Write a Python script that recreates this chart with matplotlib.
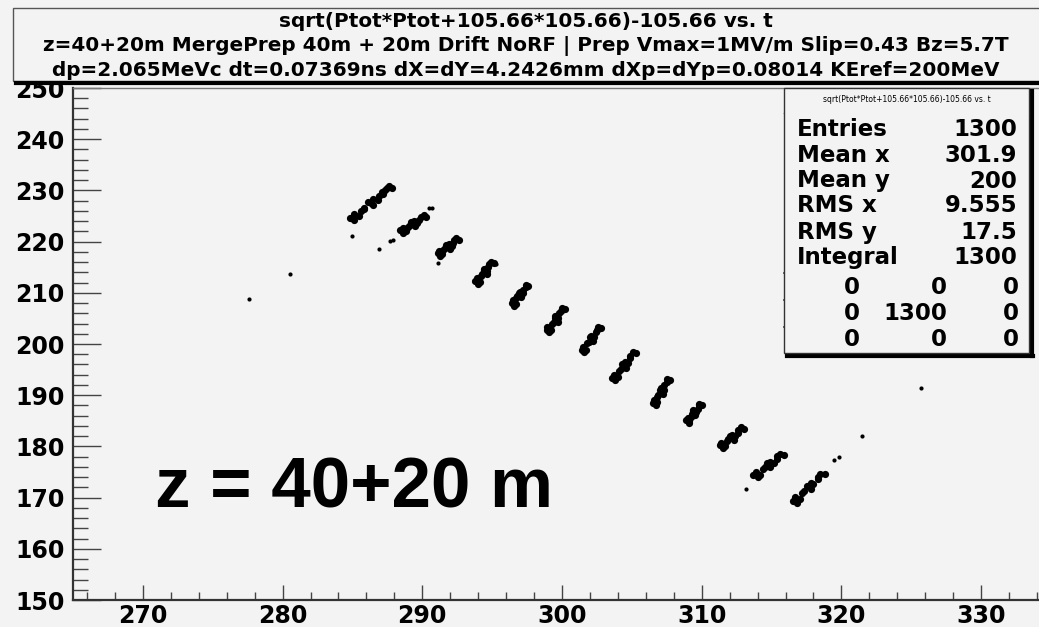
import matplotlib
matplotlib.use('Agg')
import matplotlib.pyplot as plt
from matplotlib.patches import Rectangle
from matplotlib.lines import Line2D
from matplotlib.ticker import MultipleLocator

plt.rcParams['font.family'] = 'DejaVu Sans'
plt.rcParams['font.weight'] = 'bold'

# ---- data: t (ns) and kinetic energy (MeV) of each bunch
t_b01 = [284.8, 285.1, 285.1, 285.5, 285.8, 285.8, 286.1, 286.5, 286.5, 286.8, 287.1, 287.2, 287.5, 287.8,
         286.9, 287.3, 287.6, 286.3, 285.6]
E_b01 = [224.6, 224.2, 225.4, 225.0, 226.6, 226.4, 227.7, 227.1, 228.3, 228.2, 229.7, 229.3, 230.5, 230.4,
         229.0, 230.0, 230.9, 227.6, 225.9]
t_b02 = [288.4, 288.6, 288.6, 288.8, 289.1, 289.0, 289.2, 289.5, 289.4, 289.6, 289.9, 289.8, 290.1, 290.3]
E_b02 = [222.3, 221.7, 222.6, 222.0, 223.3, 222.9, 223.9, 223.1, 224.1, 223.7, 224.9, 224.3, 225.2, 224.9]
t_b03 = [291.1, 291.3, 291.2, 291.4, 291.6, 291.5, 291.7, 292.0, 291.9, 292.1, 292.3, 292.2, 292.4, 292.6]
E_b03 = [217.8, 217.2, 218.1, 217.5, 218.8, 218.4, 219.4, 218.6, 219.6, 219.2, 220.4, 219.8, 220.7, 220.4]
t_b04 = [293.8, 294.0, 293.9, 294.1, 294.3, 294.2, 294.4, 294.6, 294.4, 294.6, 294.8, 294.7, 294.9, 295.1]
E_b04 = [212.4, 211.8, 212.8, 212.2, 213.7, 213.3, 214.4, 213.6, 214.6, 214.3, 215.7, 215.1, 216.1, 215.8]
t_b05 = [296.4, 296.6, 296.5, 296.7, 296.8, 296.7, 296.9, 297.1, 297.0, 297.2, 297.4, 297.2, 297.4, 297.6]
E_b05 = [208.1, 207.5, 208.5, 207.9, 209.3, 208.9, 210.0, 209.2, 210.2, 209.9, 211.2, 210.6, 211.6, 211.3]
t_b06 = [298.9, 299.1, 298.9, 299.2, 299.4, 299.3, 299.5, 299.7, 299.5, 299.7, 299.9, 299.8, 300.0, 300.2]
E_b06 = [202.8, 202.3, 203.3, 202.8, 204.3, 203.9, 205.1, 204.3, 205.4, 205.1, 206.5, 206.0, 207.0, 206.8]
t_b07 = [301.4, 301.6, 301.5, 301.7, 301.9, 301.8, 302.0, 302.2, 302.1, 302.3, 302.5, 302.4, 302.6, 302.8]
E_b07 = [198.9, 198.4, 199.4, 198.9, 200.4, 200.1, 201.3, 200.6, 201.6, 201.4, 202.8, 202.3, 203.3, 203.1]
t_b08 = [303.6, 303.8, 303.7, 304.0, 304.2, 304.1, 304.3, 304.6, 304.5, 304.7, 304.9, 304.9, 305.1, 305.3]
E_b08 = [193.4, 192.9, 194.0, 193.6, 195.1, 194.8, 196.0, 195.4, 196.5, 196.3, 197.7, 197.3, 198.4, 198.2]
t_b09 = [306.5, 306.7, 306.6, 306.8, 306.9, 306.8, 307.0, 307.2, 307.1, 307.3, 307.5, 307.3, 307.5, 307.7]
E_b09 = [188.5, 188.0, 189.1, 188.6, 190.1, 189.7, 191.0, 190.3, 191.4, 191.1, 192.5, 192.0, 193.1, 192.9]
t_b10 = [308.9, 309.1, 309.0, 309.1, 309.3, 309.2, 309.4, 309.5, 309.4, 309.6, 309.8, 309.7, 309.8, 310.0]
E_b10 = [185.2, 184.6, 185.5, 184.9, 186.3, 185.8, 186.9, 186.1, 187.1, 186.7, 188.0, 187.4, 188.3, 188.0]
t_b11 = [311.3, 311.5, 311.4, 311.7, 311.9, 311.8, 312.0, 312.3, 312.2, 312.4, 312.6, 312.6, 312.8, 313.0]
E_b11 = [180.2, 179.6, 180.6, 180.0, 181.4, 181.0, 182.1, 181.3, 182.3, 182.0, 183.3, 182.7, 183.7, 183.4]
t_b12 = [313.7, 314.0, 313.9, 314.2, 314.5, 314.4, 314.7, 314.9, 314.9, 315.2, 315.4, 315.4, 315.6, 315.9]
E_b12 = [174.5, 174.0, 175.0, 174.4, 175.9, 175.5, 176.7, 175.9, 177.0, 176.7, 178.1, 177.5, 178.5, 178.3]
t_b13 = [316.5, 316.8, 316.7, 317.0, 317.3, 317.2, 317.5, 317.8, 317.8, 318.0, 318.3, 318.3, 318.5, 318.8]
E_b13 = [169.4, 169.0, 170.1, 169.7, 171.2, 170.9, 172.2, 171.6, 172.8, 172.6, 174.0, 173.6, 174.7, 174.6]
# stray particles between the bunches
t_halo = [277.6, 280.5, 285.0, 286.9, 287.7, 287.9, 290.5, 290.7, 291.1, 295.3, 313.2, 319.5, 319.8, 321.5, 325.7]
E_halo = [208.8, 213.7, 221.0, 218.5, 220.2, 220.3, 226.5, 226.6, 215.8, 215.7, 171.7, 177.3, 177.9, 182.0, 191.4]

t_all = [t_b01, t_b02, t_b03, t_b04, t_b05, t_b06, t_b07, t_b08, t_b09, t_b10, t_b11, t_b12, t_b13]
E_all = [E_b01, E_b02, E_b03, E_b04, E_b05, E_b06, E_b07, E_b08, E_b09, E_b10, E_b11, E_b12, E_b13]

title_lines = ['sqrt(Ptot*Ptot+105.66*105.66)-105.66 vs. t',
               'z=40+20m MergePrep 40m + 20m Drift NoRF | Prep Vmax=1MV/m Slip=0.43 Bz=5.7T',
               'dp=2.065MeVc dt=0.07369ns dX=dY=4.2426mm dXp=dYp=0.08014 KEref=200MeV']
stat_names = ['Entries', 'Mean x', 'Mean y', 'RMS x', 'RMS y', 'Integral']
stat_values = ['1300', '301.9', '200', '9.555', '17.5', '1300']
overflow = [[0, 0, 0], [0, 1300, 0], [0, 0, 0]]

W, H = 1039, 627
bg = '#f3f3f3'

def fx(px):
    return px / W

def fy(py):
    return 1 - py / H

def hline(x0, x1, y, lw=1.0, c='#333333'):
    fig.add_artist(Line2D([fx(x0), fx(x1)], [fy(y), fy(y)], transform=fig.transFigure, color=c, lw=lw))

def vline(x, y0, y1, lw=1.0, c='#333333'):
    fig.add_artist(Line2D([fx(x), fx(x)], [fy(y0), fy(y1)], transform=fig.transFigure, color=c, lw=lw))

fig = plt.figure(figsize=(W / 100, H / 100), dpi=100, facecolor=bg)
ax = fig.add_axes([fx(73), fy(600), fx(1051) - fx(73), fy(88) - fy(600)])
ax.set_facecolor(bg)

# dense bunches: bigger dots so they merge into blobs, halo as single dots
for t, E in zip(t_all, E_all):
    ax.plot(t, E, 'o', color='k', ms=5.2, mew=0)
ax.plot(t_halo, E_halo, 'o', color='k', ms=3.0, mew=0)

ax.set_xlim(265, 335)
ax.set_ylim(150, 250)
ax.xaxis.set_major_locator(MultipleLocator(10))
ax.xaxis.set_minor_locator(MultipleLocator(2))
ax.yaxis.set_major_locator(MultipleLocator(10))
ax.yaxis.set_minor_locator(MultipleLocator(2))
ax.tick_params(which='both', direction='in', top=False, right=False, labelsize=17, color='#444444')
ax.tick_params(axis='y', which='major', length=20, width=1.0, pad=6)
ax.tick_params(axis='y', which='minor', length=11, width=1.0)
ax.tick_params(axis='x', which='major', length=11, width=1.0, pad=3)
ax.tick_params(axis='x', which='minor', length=6, width=1.0)
for side in ['left', 'bottom']:
    ax.spines[side].set_linewidth(1.6)
    ax.spines[side].set_color('#333333')
for side in ['top', 'right']:
    ax.spines[side].set_linewidth(1.0)
    ax.spines[side].set_color('#777777')

# title box (ROOT pave with shadow)
fig.add_artist(Rectangle((fx(13), fy(81)), fx(1070) - fx(13), fy(8) - fy(81),
                         transform=fig.transFigure, facecolor=bg, edgecolor='#555555', lw=1.0))
hline(16, 1070, 83, lw=3, c='black')
for txt, yy in zip(title_lines, [21.5, 46, 70]):
    fig.text(fx(526), fy(yy), txt, ha='center', va='center', fontsize=14.4)

# stats box
fig.add_artist(Rectangle((fx(784), fy(353)), fx(1029) - fx(784), fy(88) - fy(353),
                         transform=fig.transFigure, facecolor=bg, edgecolor='#333333', lw=1.0, zorder=4))
vline(1032, 91, 356, lw=3, c='black')
hline(787, 1033, 355.5, lw=3, c='black')
hline(784, 1029, 113, lw=1.0)
fig.text(fx(907), fy(99), title_lines[0], ha='center', va='center', fontsize=5.5,
         fontweight='normal', zorder=5)
for name, val, yy in zip(stat_names, stat_values, [129, 155, 181, 206, 232, 258]):
    fig.text(fx(797), fy(yy), name, ha='left', va='center', fontsize=16.5, zorder=5)
    fig.text(fx(1017), fy(yy), val, ha='right', va='center', fontsize=16.5, zorder=5)
for yy in [273, 300, 327]:
    hline(784, 1029, yy, lw=1.2)
for xx in [867, 949]:
    vline(xx, 273, 353, lw=1.2, c='#555555')
for row, yy in zip(overflow, [288, 314, 340]):
    for v, xx in zip(row, [860, 947, 1019]):
        fig.text(fx(xx), fy(yy), str(v), ha='right', va='center', fontsize=16.5, zorder=5)

# big label
fig.text(fx(155), fy(508), 'z = 40+20 m', ha='left', va='baseline', fontsize=51,
         family='Liberation Sans', fontweight='bold')

fig.savefig('out.png', dpi=100, facecolor=bg)
